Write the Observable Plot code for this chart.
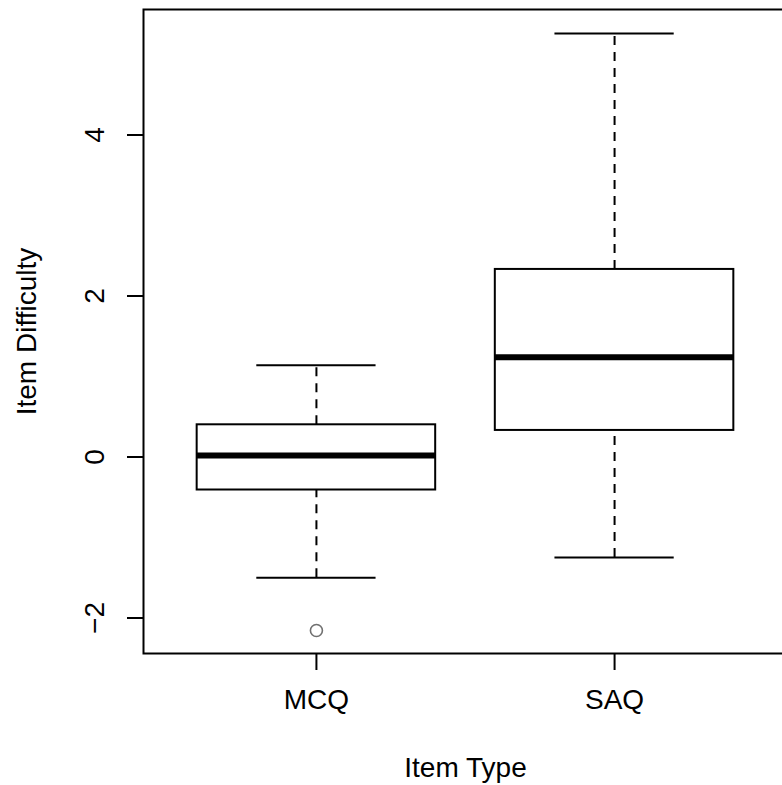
<!DOCTYPE html>
<html>
<head>
<meta charset="utf-8">
<script src="https://cdn.jsdelivr.net/npm/d3@7"></script>
<script src="https://cdn.jsdelivr.net/npm/@observablehq/plot@0.6"></script>
<style>
  html, body { margin: 0; padding: 0; background: white; overflow: hidden; }
  #chart svg { display: block; overflow: hidden; }
</style>
</head>
<body>
<div id="chart"></div>
<script>
// ---- data ----
const categories   = ["MCQ", "SAQ"];
const lowerWhisker = [-1.50, -1.25];
const q1           = [-0.41, 0.33];
const median       = [0.02, 1.24];
const q3           = [0.40, 2.33];
const upperWhisker = [1.14, 5.26];
const outlierCategory = ["MCQ"];
const outlierValue    = [-2.155];
const yTicks = [-2, 0, 2, 4];
const xTitle = "Item Type";
const yTitle = "Item Difficulty";

// ---- table built from the arrays ----
const boxes = categories.map((c, i) => ({
  cat: c, pos: i + 1,
  lo: lowerWhisker[i], q1: q1[i], med: median[i], q3: q3[i], hi: upperWhisker[i]
}));
const outliers = outlierCategory.map((c, i) => ({pos: categories.indexOf(c) + 1, value: outlierValue[i]}));

const font = "Liberation Sans, Arial, Helvetica, sans-serif";
const fs = 28;
const boxHalf = 0.4, capHalf = 0.2;
const dash = "9,7";

const chart = Plot.plot({
  width: 782,
  height: 785,
  marginLeft: 143,
  marginRight: -5,
  marginTop: 9,
  marginBottom: 132,
  style: {fontFamily: font, fontSize: fs + "px", color: "black", background: "white"},
  x: {type: "linear", domain: [0.42, 2.58], axis: null},
  y: {domain: [-2.441, 5.559], axis: null},
  marks: [
    Plot.frame({stroke: "black", strokeWidth: 2}),
    // y axis ticks
    Plot.axisY({ticks: yTicks, tickSize: 16, tickFormat: () => "", stroke: "black", strokeWidth: 2, label: null}),
    Plot.text(yTicks, {y: d => d, text: d => d < 0 ? "\u2212" + Math.abs(d) : String(d), frameAnchor: "left", dx: -48, rotate: -90, textAnchor: "middle", lineAnchor: "middle", fontSize: fs, fill: "black"}),
    // x axis
    Plot.axisX({ticks: categories.map((c, i) => i + 1), tickFormat: i => categories[i - 1], tickSize: 17, tickPadding: 19, stroke: "black", strokeWidth: 2, fontSize: fs, label: null}),
    // whiskers
    Plot.ruleX(boxes, {x: "pos", y1: "q3", y2: "hi", stroke: "black", strokeWidth: 2, strokeDasharray: dash}),
    Plot.ruleX(boxes, {x: "pos", y1: "lo", y2: "q1", stroke: "black", strokeWidth: 2, strokeDasharray: dash}),
    // caps
    Plot.ruleY(boxes, {y: "hi", x1: d => d.pos - capHalf, x2: d => d.pos + capHalf, stroke: "black", strokeWidth: 2}),
    Plot.ruleY(boxes, {y: "lo", x1: d => d.pos - capHalf, x2: d => d.pos + capHalf, stroke: "black", strokeWidth: 2}),
    // boxes
    Plot.rect(boxes, {x1: d => d.pos - boxHalf, x2: d => d.pos + boxHalf, y1: "q1", y2: "q3", fill: "white", stroke: "black", strokeWidth: 2}),
    // medians
    Plot.ruleY(boxes, {y: "med", x1: d => d.pos - boxHalf, x2: d => d.pos + boxHalf, stroke: "black", strokeWidth: 6}),
    // outliers
    Plot.dot(outliers, {x: "pos", y: "value", r: 6, stroke: "#707070", strokeWidth: 1.6, fill: "none"}),
    // titles
    Plot.text([xTitle], {text: d => d, frameAnchor: "bottom", dy: 115, lineAnchor: "middle", fontSize: fs, fill: "black"}),
    Plot.text([yTitle], {text: d => d, frameAnchor: "left", dx: -116, rotate: -90, textAnchor: "middle", lineAnchor: "middle", fontSize: fs, fill: "black"})
  ]
});
document.getElementById("chart").appendChild(chart);
</script>
</body>
</html>
